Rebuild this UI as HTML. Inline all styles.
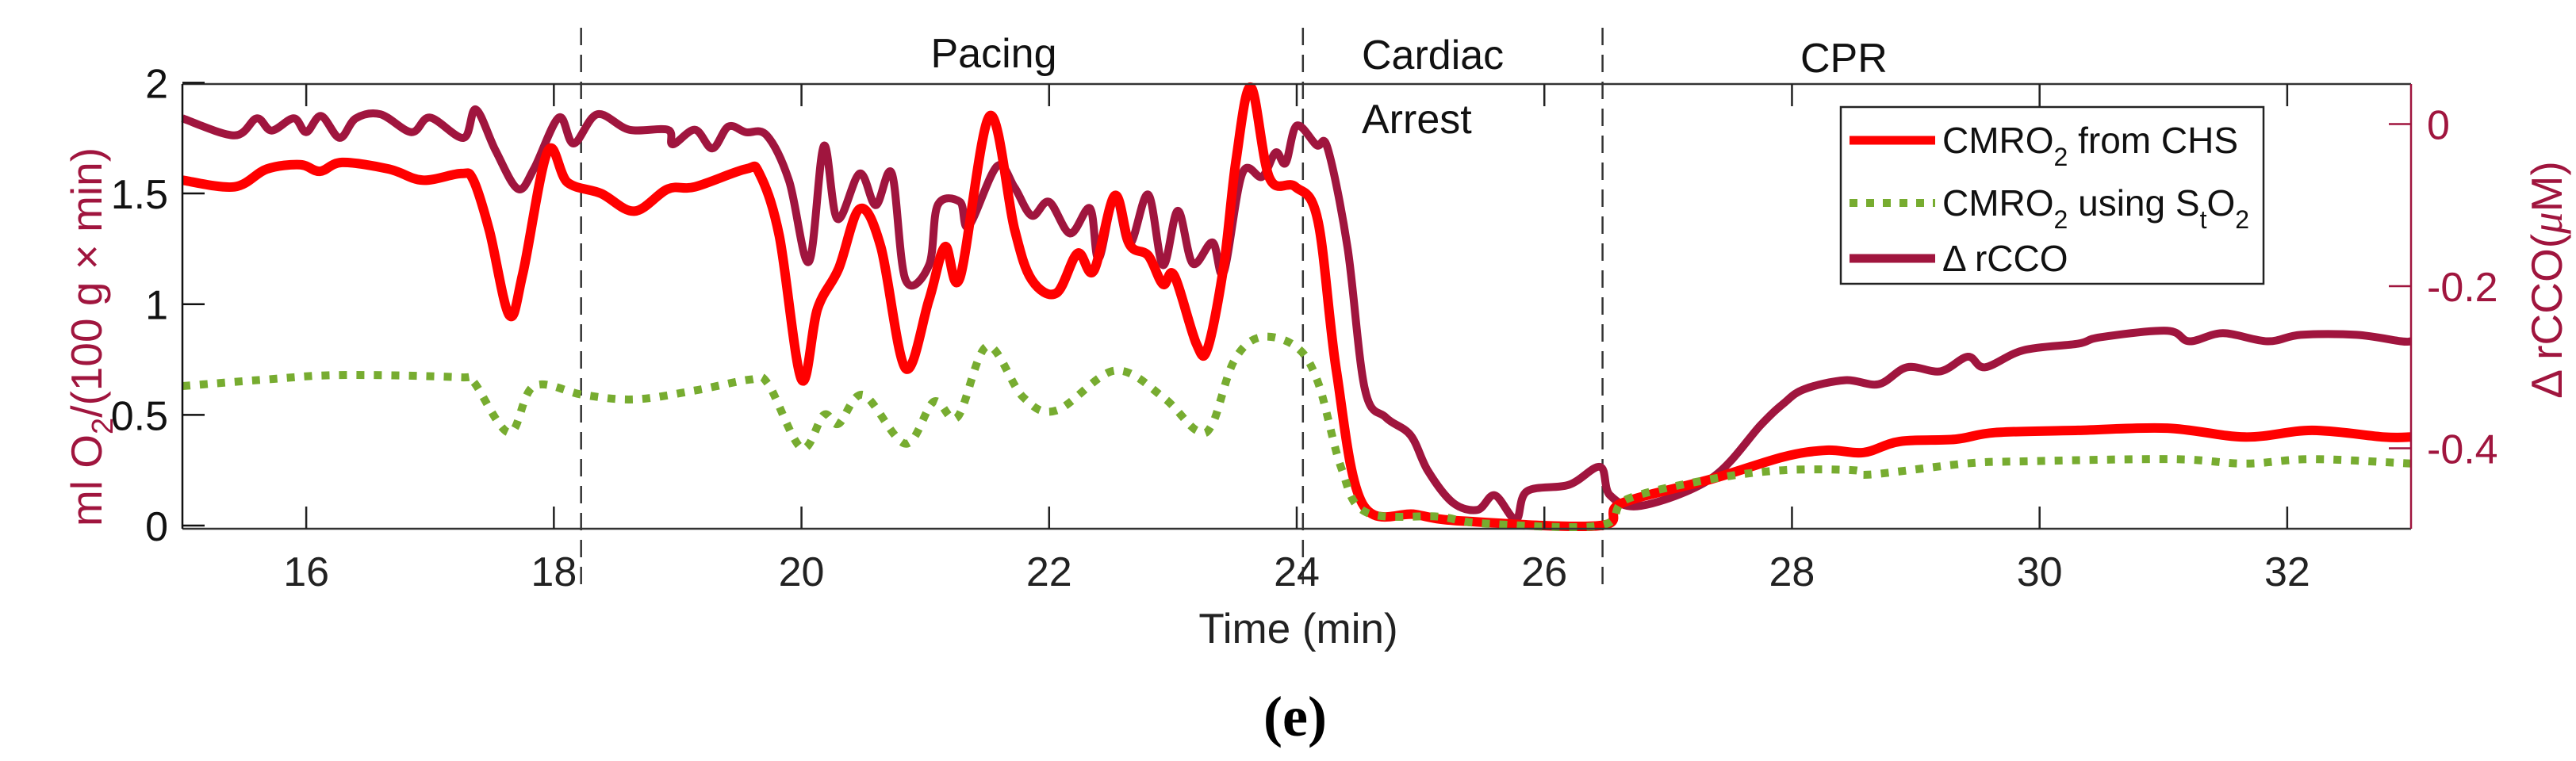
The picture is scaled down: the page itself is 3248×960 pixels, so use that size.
<!DOCTYPE html>
<html><head><meta charset="utf-8"><style>
html,body{margin:0;padding:0;background:#fff;}
svg{display:block;font-family:"Liberation Sans",Arial,sans-serif;}
</style></head><body>
<svg id="chart" width="3248" height="960" viewBox="0 0 3248 960" xmlns="http://www.w3.org/2000/svg">
<rect x="0" y="0" width="3248" height="960" fill="#fff"/>
<g id="series"></g>
<g id="axes"></g>
<g>
  <rect x="2321" y="135" width="533" height="223" fill="#fff" stroke="#222" stroke-width="2.5"/>
  <line x1="2332" y1="177" x2="2440" y2="177" stroke="#ff0000" stroke-width="11"/>
  <text x="2449" y="193" font-size="46" fill="#111">CMRO<tspan font-size="32" dy="16">2</tspan><tspan dy="-16"> from CHS</tspan></text>
  <line x1="2332" y1="256" x2="2440" y2="256" stroke="#77ac30" stroke-width="10" stroke-dasharray="10 11"/>
  <text x="2449" y="272" font-size="46" fill="#111">CMRO<tspan font-size="32" dy="16">2</tspan><tspan dy="-16"> using S</tspan><tspan font-size="32" dy="16">t</tspan><tspan dy="-16">O</tspan><tspan font-size="32" dy="16">2</tspan></text>
  <line x1="2332" y1="326" x2="2440" y2="326" stroke="#a0153e" stroke-width="11"/>
  <text x="2449" y="342" font-size="46" fill="#111">Δ rCCO</text>
</g>
<text x="1253" y="85" font-size="52" text-anchor="middle" fill="#111">Pacing</text>
<text x="1717" y="87" font-size="52" fill="#111">Cardiac</text>
<text x="1717" y="168" font-size="52" fill="#111">Arrest</text>
<text x="2270" y="91" font-size="52" fill="#111">CPR</text>
<text x="1637" y="811" font-size="53" text-anchor="middle" fill="#222">Time (min)</text>
<text transform="translate(128,425) rotate(-90)" font-size="55" text-anchor="middle" fill="#a0153e">ml O<tspan font-size="38" dy="14">2</tspan><tspan dy="-14">/(100 g × min)</tspan></text>
<text transform="translate(3230,353) rotate(-90)" font-size="55" text-anchor="middle" fill="#a0153e">Δ rCCO(<tspan font-style="italic" font-family="Liberation Serif,serif">μ</tspan>M)</text>
<text x="1633" y="928" font-size="72" font-weight="bold" text-anchor="middle" fill="#000" font-family="Liberation Serif,serif">(e)</text>
</svg>
<script>
const timeChs = [15,15.42,15.68,15.95,16.11,16.29,16.67,16.94,17.25,17.35,17.48,17.64,17.75,17.95,18.11,18.38,18.65,18.92,19.14,19.55,19.66,19.82,20.0,20.13,20.3,20.47,20.64,20.84,21.03,21.16,21.28,21.52,21.72,21.86,22.06,22.23,22.36,22.53,22.65,22.8,22.92,23.01,23.19,23.28,23.41,23.51,23.63,23.78,23.99,24.17,24.32,24.53,24.96,25.35,26.45,26.62,27.35,27.93,28.28,28.58,28.87,29.32,29.64,30.31,31.03,31.66,32.2,32.78,33];
const valChs = [1.56,1.53,1.61,1.63,1.60,1.64,1.61,1.56,1.59,1.56,1.33,0.95,1.14,1.69,1.55,1.50,1.42,1.52,1.53,1.61,1.59,1.31,0.66,0.98,1.16,1.43,1.26,0.71,1.02,1.26,1.12,1.85,1.34,1.11,1.05,1.23,1.15,1.49,1.27,1.22,1.09,1.13,0.82,0.80,1.17,1.65,1.98,1.57,1.53,1.38,0.70,0.10,0.05,0.02,0.0,0.10,0.21,0.31,0.34,0.33,0.38,0.39,0.42,0.43,0.44,0.40,0.43,0.40,0.40];
const timeSto2 = [15,15.68,16.28,17.23,17.35,17.64,17.84,18.24,18.65,19.14,19.59,19.73,20.0,20.18,20.3,20.5,20.84,21.07,21.26,21.5,21.79,22.06,22.53,22.92,23.19,23.32,23.49,23.7,23.99,24.17,24.36,24.56,25.15,25.5,26.45,26.67,27.35,27.93,28.5,28.62,29.4,29.87,31.07,31.66,32.2,33];
const valSto2 = [0.63,0.66,0.68,0.67,0.65,0.42,0.63,0.59,0.57,0.61,0.66,0.64,0.35,0.50,0.46,0.59,0.37,0.56,0.49,0.81,0.58,0.52,0.70,0.58,0.43,0.46,0.74,0.85,0.81,0.65,0.26,0.06,0.04,0.01,0.0,0.12,0.21,0.25,0.25,0.23,0.28,0.29,0.30,0.28,0.30,0.28];
const timeRcco = [15,15.42,15.6,15.72,15.9,16.0,16.12,16.27,16.4,16.6,16.85,17.0,17.27,17.37,17.53,17.71,17.84,18.04,18.16,18.35,18.61,18.92,18.96,19.14,19.28,19.41,19.55,19.72,19.9,20.06,20.18,20.29,20.47,20.6,20.73,20.84,21.03,21.1,21.28,21.35,21.58,21.72,21.86,22.0,22.17,22.33,22.4,22.53,22.65,22.8,22.92,23.04,23.16,23.32,23.41,23.56,23.72,23.83,23.91,24.0,24.16,24.25,24.41,24.55,24.72,24.92,25.06,25.26,25.46,25.6,25.77,25.86,26.2,26.45,26.53,26.78,27.35,27.75,27.93,28.1,28.43,28.7,28.93,29.2,29.42,29.56,29.87,30.31,30.49,31.03,31.21,31.48,31.84,32.11,32.56,32.92,33];
const valRcco = [0.007,-0.014,0.007,-0.008,0.007,-0.01,0.01,-0.017,0.007,0.012,-0.01,0.008,-0.017,0.018,-0.033,-0.08,-0.055,0.008,-0.024,0.012,-0.007,-0.007,-0.025,-0.007,-0.03,-0.003,-0.01,-0.014,-0.07,-0.17,-0.027,-0.117,-0.061,-0.1,-0.061,-0.192,-0.174,-0.1,-0.096,-0.126,-0.052,-0.078,-0.113,-0.096,-0.135,-0.104,-0.166,-0.089,-0.148,-0.087,-0.174,-0.107,-0.172,-0.146,-0.183,-0.061,-0.065,-0.035,-0.048,-0.002,-0.026,-0.03,-0.152,-0.327,-0.362,-0.384,-0.428,-0.467,-0.476,-0.458,-0.488,-0.453,-0.445,-0.423,-0.458,-0.471,-0.437,-0.371,-0.345,-0.327,-0.316,-0.321,-0.30,-0.305,-0.287,-0.30,-0.279,-0.271,-0.263,-0.255,-0.268,-0.258,-0.268,-0.26,-0.26,-0.268,-0.268];
const xTicks = [16,18,20,22,24,26,28,30,32];
const yLeftTicks = [0,0.5,1,1.5,2];
const yLeftLabels = ["0","0.5","1","1.5","2"];
const yRightTicks = [0,-0.2,-0.4];
const yRightLabels = ["0","-0.2","-0.4"];
const phaseTimes = [18.22,24.05,26.47];

const NS = "http://www.w3.org/2000/svg";
const X0 = 230, X1 = 3040, Y0 = 106, Y1 = 667;
const xs = t => X0 + (t - 15) / 18 * (X1 - X0);
const yl = v => 663 - v * 279.3;
const yr = v => 156.5 - v * 1022.5;

function mk(tag, attrs, parent) {
  const e = document.createElementNS(NS, tag);
  for (const k in attrs) e.setAttribute(k, attrs[k]);
  parent.appendChild(e);
  return e;
}
function smoothPath(pts) {
  let d = "M" + pts[0][0].toFixed(1) + "," + pts[0][1].toFixed(1);
  for (let i = 0; i < pts.length - 1; i++) {
    const p0 = pts[i - 1] || pts[i], p1 = pts[i], p2 = pts[i + 1], p3 = pts[i + 2] || p2;
    const c1x = p1[0] + (p2[0] - p0[0]) / 6, c1y = p1[1] + (p2[1] - p0[1]) / 6;
    const c2x = p2[0] - (p3[0] - p1[0]) / 6, c2y = p2[1] - (p3[1] - p1[1]) / 6;
    d += "C" + c1x.toFixed(1) + "," + c1y.toFixed(1) + " " + c2x.toFixed(1) + "," + c2y.toFixed(1) + " " + p2[0].toFixed(1) + "," + p2[1].toFixed(1);
  }
  return d;
}
const series = document.getElementById("series");
const axes = document.getElementById("axes");

phaseTimes.forEach(t => {
  const l = mk("line", {x1: xs(t), x2: xs(t), y1: 35, y2: 748, stroke: "#333", "stroke-width": 2.5, "stroke-dasharray": "22 12"}, series);
  
  
});

const pRcco = mk("path", {d: smoothPath(timeRcco.map((t, i) => [xs(t), yr(valRcco[i])])), fill: "none", stroke: "#a0153e", "stroke-width": 10, "stroke-linejoin": "round"}, series);


const pChs = mk("path", {d: smoothPath(timeChs.map((t, i) => [xs(t), yl(valChs[i])])), fill: "none", stroke: "#ff0000", "stroke-width": 12, "stroke-linejoin": "round"}, series);


const pSto = mk("path", {d: smoothPath(timeSto2.map((t, i) => [xs(t), yl(valSto2[i])])), fill: "none", stroke: "#77ac30", "stroke-width": 10, "stroke-dasharray": "10 12"}, series);



const ln = (x1, y1, x2, y2, c, w) => mk("line", {x1, y1, x2, y2, stroke: c, "stroke-width": w}, axes);
let a;
a = ln(X0, Y0, X1, Y0, "#333", 2.5);  
a = ln(X0, Y1, X1, Y1, "#333", 2.5);  
a = ln(X0, Y0, X0, Y1, "#111", 2.5);  
a = ln(X1, Y0, X1, Y1, "#a0153e", 2.5);  

xTicks.forEach(t => {
  const x = xs(t);
  let e = ln(x, Y1, x, Y1 - 28, "#222", 2.5);
  
  
  e = ln(x, Y0, x, Y0 + 28, "#222", 2.5);
  
  
  const tx = mk("text", {x: x, y: 739, "font-size": 52, "text-anchor": "middle", fill: "#222"}, axes);
  tx.textContent = String(t);
  
  
});
yLeftTicks.forEach((v, i) => {
  const y = yl(v);
  const e = ln(X0, y, X0 + 28, y, "#111", 2.5);
  
  
  const tx = mk("text", {x: 212, y: y + 19, "font-size": 52, "text-anchor": "end", fill: "#111"}, axes);
  tx.textContent = yLeftLabels[i];
  
  
});
yRightTicks.forEach((v, i) => {
  const y = yr(v);
  const e = ln(X1, y, X1 - 28, y, "#a0153e", 2.5);
  
  
  const tx = mk("text", {x: 3060, y: y + 19, "font-size": 52, fill: "#a0153e"}, axes);
  tx.textContent = yRightLabels[i];
  
  
});
</script>
</body></html>
